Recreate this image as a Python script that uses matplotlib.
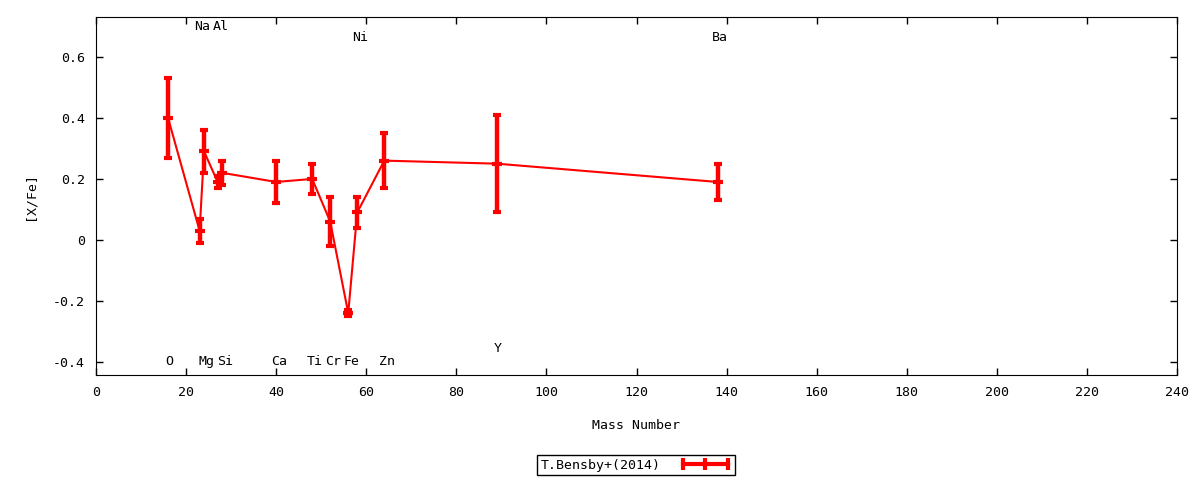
import matplotlib
matplotlib.use("Agg")
import matplotlib.pyplot as plt
from matplotlib.lines import Line2D
from matplotlib.legend_handler import HandlerLine2D
from matplotlib.ticker import MultipleLocator, FuncFormatter

# abundance data
elements = ["O", "Na", "Mg", "Al", "Si", "Ca", "Ti", "Cr", "Fe", "Ni", "Zn", "Y", "Ba"]
mass = [16, 23, 24, 27, 28, 40, 48, 52, 56, 58, 64, 89, 138]
xfe = [0.40, 0.03, 0.29, 0.19, 0.22, 0.19, 0.20, 0.06, -0.24, 0.09, 0.26, 0.25, 0.19]
err = [0.13, 0.04, 0.07, 0.02, 0.04, 0.07, 0.05, 0.08, 0.01, 0.05, 0.09, 0.16, 0.06]
label_y = [-0.40, 0.70, -0.40, 0.70, -0.40, -0.40, -0.40, -0.40, -0.40, 0.665, -0.40, -0.355, 0.665]

plt.rcParams['font.family'] = ['DejaVu Sans Mono']
plt.rcParams['font.size'] = 9.5

fig = plt.figure(figsize=(12, 4.8), dpi=100)
ax = fig.add_axes([96/1200, 1-375/480, (1177-96)/1200, (375-17)/480])

ax.errorbar(mass, xfe, yerr=err, color='red', lw=1.5, elinewidth=3.2,
            capsize=3, capthick=3, marker='_', ms=7, mew=3)

for el, m, ly in zip(elements, mass, label_y):
    ax.annotate(el, (m, ly), xytext=(0.5*len(el) + 1 if len(el) > 1 else 0.5, 0),
                textcoords='offset points', ha='center', va='center')

ax.set_xlim(0, 240)
ax.set_ylim(-0.443, 0.731)
ax.xaxis.set_major_locator(MultipleLocator(20))
ax.yaxis.set_major_locator(MultipleLocator(0.2))
ax.yaxis.set_major_formatter(FuncFormatter(lambda v, p: "0" if abs(v) < 1e-9 else f"{v:g}"))
ax.tick_params(direction='in', top=True, right=True, length=5, width=1, pad=8)

ax.set_xlabel("Mass Number", labelpad=14)
ax.set_ylabel("[X/Fe]", labelpad=12)

# gnuplot-style key sample: horizontal bar with end caps
proxy = Line2D([], [], color='red', lw=3, marker='|', ms=8, mew=3)
leg = fig.legend([proxy], ['T.Bensby+(2014)'], loc='center',
                 bbox_to_anchor=(636/1200, 1-465/480), markerfirst=False,
                 handler_map={proxy: HandlerLine2D(numpoints=3)},
                 fancybox=False, framealpha=1, edgecolor='black', handlelength=4.0,
                 borderpad=0.25, handletextpad=1.4, borderaxespad=0)
leg.get_frame().set_linewidth(1)

fig.savefig("out.png", dpi=100)
